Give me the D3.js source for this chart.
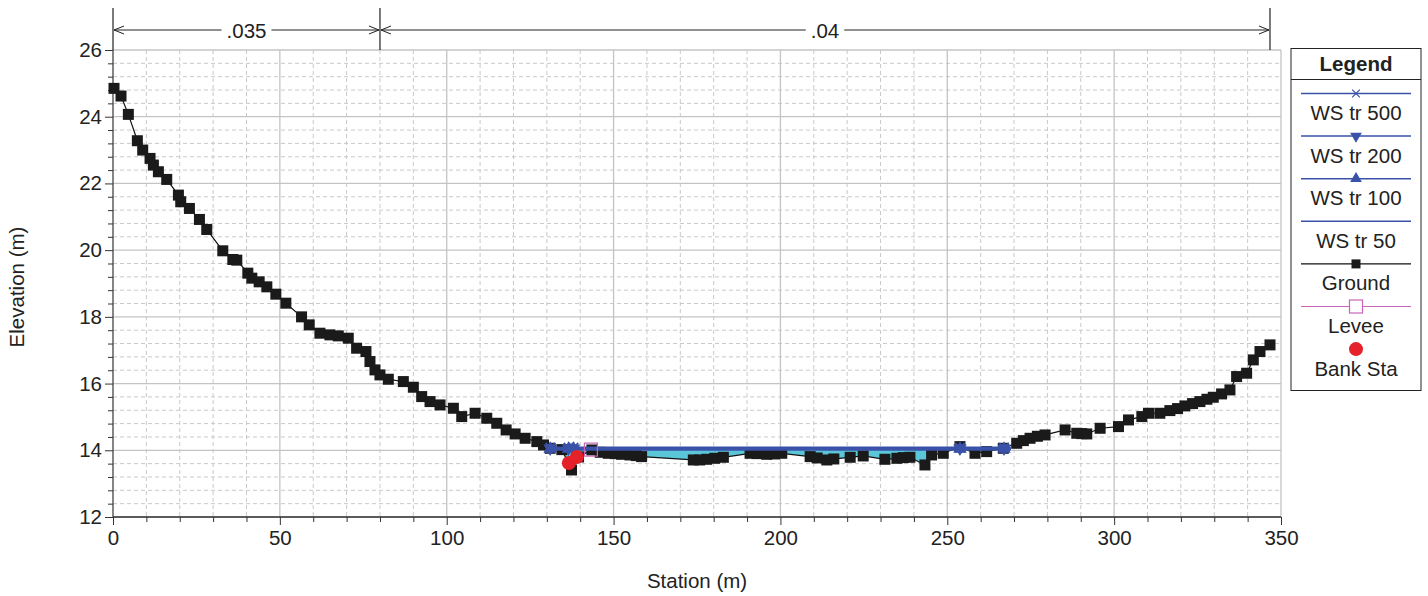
<!DOCTYPE html>
<html><head><meta charset="utf-8">
<script src="https://cdn.jsdelivr.net/npm/d3@7"></script>
<style>body{margin:0;background:#fff}svg{display:block;font-family:"Liberation Sans",Arial,sans-serif}</style>
</head><body>
<svg id="c" width="1428" height="596"></svg>
<script>
// ---- data ----
const groundStation = [0.3,2.4,4.6,7.3,8.9,11.1,12.1,13.6,16.1,19.6,20.3,22.9,25.9,28.1,32.9,35.9,37.1,40.4,41.6,43.8,46.1,48.8,51.8,56.5,58.8,62.0,65.0,67.5,70.5,73.0,75.8,77.0,78.5,80.0,82.5,87.0,90.0,92.5,95.0,98.0,102.0,104.5,108.5,112.0,115.0,117.8,120.5,123.5,127.0,129.0,131.0,134.5,137.4,139.5,143.5,146.0,148.4,150.5,152.4,154.9,156.8,158.4,173.9,175.8,177.9,180.3,182.9,190.9,193.0,195.9,198.2,200.4,208.9,211.0,213.9,216.0,220.9,224.8,231.3,234.9,236.8,238.8,243.3,245.3,248.8,253.8,258.3,261.8,266.8,270.8,272.8,274.8,277.0,279.3,285.3,288.8,290.3,291.8,295.8,301.3,304.3,308.3,310.3,313.7,316.7,319.0,321.2,323.5,325.7,327.8,329.7,332.2,334.7,336.7,339.7,341.7,343.7,346.7];
const groundElev = [24.85,24.62,24.07,23.28,23.00,22.75,22.55,22.35,22.12,21.65,21.45,21.25,20.92,20.62,19.98,19.72,19.70,19.31,19.16,19.05,18.90,18.68,18.41,18.00,17.76,17.51,17.46,17.43,17.36,17.06,16.96,16.66,16.41,16.26,16.13,16.06,15.89,15.61,15.46,15.36,15.26,15.01,15.11,14.96,14.81,14.61,14.49,14.36,14.26,14.16,14.06,14.02,13.41,13.80,14.01,13.94,13.91,13.90,13.88,13.86,13.84,13.81,13.71,13.71,13.73,13.76,13.79,13.91,13.90,13.88,13.89,13.91,13.81,13.77,13.71,13.74,13.79,13.83,13.73,13.76,13.78,13.79,13.56,13.86,13.91,14.11,13.91,13.96,14.06,14.21,14.29,14.36,14.42,14.46,14.61,14.51,14.50,14.49,14.66,14.71,14.91,15.01,15.11,15.11,15.19,15.25,15.33,15.40,15.46,15.53,15.59,15.69,15.81,16.21,16.31,16.71,16.96,17.16];

const wsNames = ["WS tr 500","WS tr 200","WS tr 100","WS tr 50"];
const wsElev = [14.08,14.06,14.04,14.02];
const wsStart = 130.5, wsEnd = 269.0;
const wsMarkerStations = [131.0, 136.5, 138.0, 253.8, 267.0];

const leveeStation = [143.2], leveeElev = [14.02];
const bankStation = [136.6, 139.0], bankElev = [13.62, 13.80];

const roughBreaks = [0, 80, 346.7];
const roughLabels = [".035", ".04"];

const xTicks = [0,50,100,150,200,250,300,350];
const yTicks = [12,14,16,18,20,22,24,26];
const legendLabels = ["WS tr 500","WS tr 200","WS tr 100","WS tr 50","Ground","Levee","Bank Sta"];

// ---- drawing ----
const FS = 20.5;
const svg = d3.select("#c");
const x = d3.scaleLinear().domain([0,350]).range([113,1281]);
const y = d3.scaleLinear().domain([12,26]).range([517,50]);
const BLUE = "#3a52a8", CYAN = "#5cc6d9", PINK = "#c865b8", RED = "#e5222a";

// grid
const g = svg.append("g");
const xMinor = d3.range(0,351,10), yMinor = d3.range(12,26.01,0.4).map(v=>+v.toFixed(1));
g.selectAll(".vx").data(xMinor.filter(v=>v%50!==0)).join("line")
 .attr("x1",d=>x(d)).attr("x2",d=>x(d)).attr("y1",y(26)).attr("y2",y(12))
 .attr("stroke","#c9c9c9").attr("stroke-dasharray","4,3");
g.selectAll(".hy").data(yMinor.filter(v=>Math.abs(v/2-Math.round(v/2))>0.01)).join("line")
 .attr("y1",d=>y(d)).attr("y2",d=>y(d)).attr("x1",x(0)).attr("x2",x(350))
 .attr("stroke","#c9c9c9").attr("stroke-dasharray","4,3");
g.selectAll(".vX").data(xTicks).join("line")
 .attr("x1",d=>x(d)).attr("x2",d=>x(d)).attr("y1",y(26)).attr("y2",y(12))
 .attr("stroke","#c4c4c4").attr("stroke-width",1.3);
g.selectAll(".hY").data(yTicks).join("line")
 .attr("y1",d=>y(d)).attr("y2",d=>y(d)).attr("x1",x(0)).attr("x2",x(350))
 .attr("stroke","#c4c4c4").attr("stroke-width",1.3);

// water fill
const ground = groundStation.map((s,i)=>({s, e:groundElev[i]}));
const gInterp = s => {
  for (let i=0;i<ground.length-1;i++){
    const a=ground[i], b=ground[i+1];
    if (s>=a.s && s<=b.s) return a.e + (b.e-a.e)*(s-a.s)/(b.s-a.s);
  }
  return ground[ground.length-1].e;
};
const wsTop = wsElev[0];
const fillPts = [wsStart, ...groundStation.filter(s=>s>wsStart && s<wsEnd), wsEnd];
svg.append("path").datum(fillPts)
 .attr("d", d3.area().x(d=>x(d)).y0(d=>y(Math.min(gInterp(d), wsTop))).y1(()=>y(wsTop)))
 .attr("fill", CYAN);

// axes
const xAxis = svg.append("g").attr("transform",`translate(0,${y(12)})`)
 .call(d3.axisBottom(x).tickValues(xTicks).tickSize(8).tickPadding(5).tickFormat(d3.format("d")));
svg.append("g").attr("transform",`translate(0,${y(12)})`)
 .call(d3.axisBottom(x).tickValues(xMinor.filter(v=>v%50!==0)).tickSize(5).tickFormat(""))
 .select(".domain").remove();
const yAxis = svg.append("g").attr("transform",`translate(${x(0)},0)`)
 .call(d3.axisLeft(y).tickValues(yTicks).tickSize(8).tickPadding(3).tickFormat(d3.format("d")));
svg.append("g").attr("transform",`translate(${x(0)},0)`)
 .call(d3.axisLeft(y).tickValues(yMinor.filter(v=>Math.abs(v/2-Math.round(v/2))>0.01)).tickSize(5).tickFormat(""))
 .select(".domain").remove();
svg.selectAll(".tick text").attr("font-size",FS).attr("fill","#222").attr("font-family","Liberation Sans, Arial, sans-serif");
svg.selectAll(".tick line").attr("stroke","#333");
xAxis.select(".domain").attr("d",`M${x(0)},0H${x(350)}`).attr("stroke","#333").attr("stroke-width",1.5);
yAxis.select(".domain").attr("d",`M0,${y(12)}V${y(26)}`).attr("stroke","#333");

// axis titles
svg.append("text").attr("x",697).attr("y",588).attr("text-anchor","middle").attr("font-size",FS).attr("fill","#222").text("Station (m)");
svg.append("text").attr("transform","translate(24,287) rotate(-90)").attr("text-anchor","middle").attr("font-size",FS).attr("fill","#222").text("Elevation (m)");

// ground line + markers
svg.append("path").datum(ground)
 .attr("d", d3.line().x(d=>x(d.s)).y(d=>y(d.e)))
 .attr("fill","none").attr("stroke","#111").attr("stroke-width",1.2);
svg.append("g").selectAll("rect").data(ground).join("rect")
 .attr("x",d=>x(d.s)-5.5).attr("y",d=>y(d.e)-5.5).attr("width",11).attr("height",11).attr("fill","#1a1a1a");

// water surface lines
wsElev.forEach((e,i)=>{
  svg.append("line").attr("x1",x(wsStart)).attr("x2",x(wsEnd)).attr("y1",y(e)).attr("y2",y(e))
   .attr("stroke",BLUE).attr("stroke-width",2.2);
});
// WS markers
const markerSym = [d3.symbolX, d3.symbolTriangle, d3.symbolTriangle, null];
const markerRot = [0, 180, 0, 0];
wsElev.forEach((e,i)=>{
  if (!markerSym[i]) return;
  svg.append("g").selectAll("path").data(wsMarkerStations).join("path")
   .attr("transform",d=>`translate(${x(d)},${y(e)}) rotate(${markerRot[i]})`)
   .attr("d", d3.symbol().type(markerSym[i]).size(i===0?60:50))
   .attr("fill", i===0?"none":BLUE).attr("stroke",BLUE).attr("stroke-width",1.6);
});
// levee
svg.append("g").selectAll("rect").data(leveeStation).join("rect")
 .attr("x",(d)=>x(d)-6.5).attr("y",(d,i)=>y(leveeElev[i])-6.5).attr("width",13).attr("height",13)
 .attr("fill","none").attr("stroke",PINK).attr("stroke-width",1.2);
// bank stations
svg.append("g").selectAll("circle").data(bankStation).join("circle")
 .attr("cx",d=>x(d)).attr("cy",(d,i)=>y(bankElev[i])).attr("r",7).attr("fill",RED);

// roughness annotations
const ry = 30;
roughBreaks.forEach(s=>{
  svg.append("line").attr("x1",x(s)).attr("x2",x(s)).attr("y1",8).attr("y2",y(26)).attr("stroke","#222").attr("stroke-width",1.2);
});
roughLabels.forEach((lab,i)=>{
  const a = x(roughBreaks[i])+1, b = x(roughBreaks[i+1])-1, m=(a+b)/2;
  const t = svg.append("text").attr("x",m).attr("y",ry+7.5).attr("text-anchor","middle").attr("font-size",FS).attr("fill","#222").text(lab);
  const w = t.node().getComputedTextLength();
  svg.append("line").attr("x1",a).attr("x2",m-w/2-5).attr("y1",ry).attr("y2",ry).attr("stroke","#222");
  svg.append("line").attr("x1",m+w/2+5).attr("x2",b).attr("y1",ry).attr("y2",ry).attr("stroke","#222");
  svg.append("path").attr("d",`M${a+10},${ry-4}L${a},${ry}L${a+10},${ry+4}M${b-10},${ry-4}L${b},${ry}L${b-10},${ry+4}`)
   .attr("fill","none").attr("stroke","#222");
});

// legend
const L = svg.append("g");
const lx = 1291, lw = 130, lcx = lx + lw/2;
L.append("rect").attr("x",lx).attr("y",48.5).attr("width",lw).attr("height",342).attr("fill","#fff").attr("stroke","#222");
L.append("text").attr("x",lcx).attr("y",71).attr("text-anchor","middle").attr("font-size",FS).attr("font-weight","bold").attr("fill","#222").text("Legend");
L.append("line").attr("x1",lx).attr("x2",lx+lw).attr("y1",79.5).attr("y2",79.5).attr("stroke","#222");
const step = 42.6, ly0 = 93.5;
legendLabels.forEach((lab,i)=>{
  const ly = ly0 + i*step;
  L.append("text").attr("x",lcx).attr("y",ly+26.5).attr("text-anchor","middle").attr("font-size",FS).attr("fill","#222").text(lab);
  if (i<4) L.append("line").attr("x1",lx+10).attr("x2",lx+lw-10).attr("y1",ly).attr("y2",ly).attr("stroke",BLUE).attr("stroke-width",1.5);
  if (i===4) L.append("line").attr("x1",lx+10).attr("x2",lx+lw-10).attr("y1",ly).attr("y2",ly).attr("stroke","#111").attr("stroke-width",1.2);
  if (i===5) L.append("line").attr("x1",lx+10).attr("x2",lx+lw-10).attr("y1",ly).attr("y2",ly).attr("stroke",PINK).attr("stroke-width",1.2);
  if (i<3) L.append("path").attr("transform",`translate(${lcx},${ly}) rotate(${markerRot[i]})`)
     .attr("d",d3.symbol().type(markerSym[i]).size(40)).attr("fill",i===0?"none":BLUE).attr("stroke",BLUE).attr("stroke-width",1.2);
  if (i===4) L.append("rect").attr("x",lcx-4.5).attr("y",ly-4.5).attr("width",9).attr("height",9).attr("fill","#1a1a1a");
  if (i===5) L.append("rect").attr("x",lcx-6.5).attr("y",ly-6.5).attr("width",13).attr("height",13).attr("fill","#fff").attr("stroke",PINK).attr("stroke-width",1.2);
  if (i===6) L.append("circle").attr("cx",lcx).attr("cy",ly).attr("r",7).attr("fill",RED);
});
</script>
</body></html>
